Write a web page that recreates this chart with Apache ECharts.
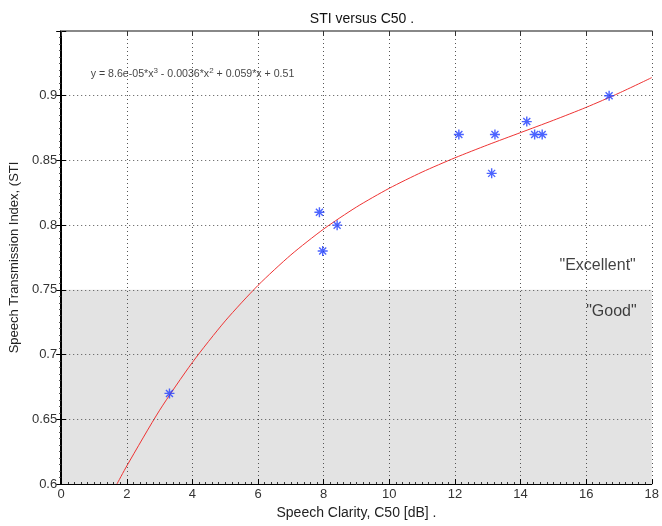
<!DOCTYPE html>
<html>
<head>
<meta charset="utf-8">
<script src="https://cdn.jsdelivr.net/npm/echarts@6/dist/echarts.min.js"></script>
<style>
html, body { margin: 0; padding: 0; background: #fff; }
#chart { width: 662px; height: 526px; }
</style>
</head>
<body>
<div id="chart"></div>
<script>
// measured points: C50 [dB] vs STI
let c50 = [3.3, 7.87, 7.97, 8.41, 12.12, 13.12, 13.22, 14.19, 14.43, 14.66, 16.7];
let sti = [0.67, 0.81, 0.78, 0.80, 0.87, 0.84, 0.87, 0.88, 0.87, 0.87, 0.90];

// fitted curve
let fitX = [1.7, 2, 3, 4, 5, 6, 7, 8, 9, 10, 11, 12, 13, 14, 15, 16, 17, 18];
let fitY = [0.600, 0.614, 0.657, 0.694, 0.726, 0.7535, 0.777, 0.797, 0.814, 0.8285,
	0.841, 0.852, 0.862, 0.8715, 0.881, 0.891, 0.902, 0.914];

let xTicks = [0, 2, 4, 6, 8, 10, 12, 14, 16, 18];
let yTicks = [0.6, 0.65, 0.7, 0.75, 0.8, 0.85, 0.9];

let fontFam = '"Liberation Sans", Arial, Helvetica, sans-serif';
let myChart = echarts.init(document.getElementById('chart'), null, { renderer: 'canvas' });

let asterisk = 'path://M5,0 L5,10 M0,5 L10,5 M1.5,1.5 L8.5,8.5 M8.5,1.5 L1.5,8.5';

let gridStyle = { color: '#555', type: [1, 3], width: 1 };

let option = {
	animation: false,
	backgroundColor: '#fff',
	title: {
		text: 'STI versus C50 .',
		left: 357,
		textAlign: 'center',
		top: 7,
		textStyle: { fontFamily: fontFam, fontSize: 14, fontWeight: 'normal', color: '#111' }
	},
	grid: { left: 61, right: 10, top: 31, bottom: 42 },
	xAxis: [{
		type: 'value',
		min: xTicks[0],
		max: xTicks[xTicks.length - 1],
		interval: 2,
		z: 3,
		name: 'Speech Clarity, C50 [dB] .',
		nameLocation: 'middle',
		nameGap: 19,
		nameTextStyle: { fontFamily: fontFam, fontSize: 14, color: '#222' },
		axisLine: { lineStyle: { color: '#000', width: 1 } },
		axisTick: { inside: true, length: 5, lineStyle: { color: '#000' } },
		minorTick: { show: true, splitNumber: 10, length: 2, lineStyle: { color: '#333' } },
		axisLabel: { fontFamily: fontFam, fontSize: 13, color: '#333', margin: 4 },
		splitLine: { show: true, lineStyle: gridStyle }
	}, {
		type: 'value',
		position: 'top',
		min: xTicks[0],
		max: xTicks[xTicks.length - 1],
		interval: 2,
		z: 3,
		axisLine: { lineStyle: { color: '#888', width: 2 } },
		axisTick: { inside: true, length: 5, lineStyle: { color: '#333' } },
		axisLabel: { show: false },
		splitLine: { show: false }
	}],
	yAxis: [{
		type: 'value',
		min: yTicks[0],
		max: 0.95,
		interval: 0.05,
		z: 3,
		name: 'Speech Transmission Index, (STI',
		nameLocation: 'middle',
		nameGap: 36,
		nameTextStyle: { fontFamily: fontFam, fontSize: 13, color: '#222' },
		axisLine: { lineStyle: { color: '#000', width: 1 } },
		axisTick: { inside: true, length: 5, lineStyle: { color: '#000' } },
		axisLabel: {
			fontFamily: fontFam, fontSize: 13, color: '#333', margin: 4,
			formatter: function (v) {
				let hit = yTicks.find(t => Math.abs(t - v) < 1e-6);
				return hit === undefined ? '' : String(hit);
			}
		},
		splitLine: { show: true, lineStyle: gridStyle }
	}, {
		type: 'value',
		position: 'right',
		min: yTicks[0],
		max: 0.95,
		interval: 0.05,
		z: 3,
		axisLine: { show: true, lineStyle: { color: '#000', width: 2 } },
		axisTick: { inside: true, length: 5, lineStyle: { color: '#000' } },
		minorTick: { show: true, splitNumber: 10, length: 2, lineStyle: { color: '#333' } },
		axisLabel: { show: false },
		splitLine: { show: false }
	}],
	series: [{
		name: 'fit',
		type: 'line',
		data: fitX.map((x, i) => [x, fitY[i]]),
		smooth: 0.25,
		showSymbol: false,
		lineStyle: { color: '#ee3333', width: 1 },
		markArea: {
			silent: true,
			itemStyle: { color: '#e3e3e3' },
			data: [[{ yAxis: 0.6 }, { yAxis: 0.75 }]]
		},
		z: 2
	}, {
		name: 'STI',
		type: 'scatter',
		data: c50.map((x, i) => [x, sti[i]]),
		symbol: asterisk,
		symbolSize: 10,
		itemStyle: { color: 'transparent', borderColor: '#1f3dff', borderWidth: 1.4 },
		z: 4
	}, {
		name: 'notes',
		type: 'scatter',
		symbolSize: 0,
		silent: true,
		z: 5,
		data: [
			{ value: [16.35, 0.769], label: { formatter: '"Excellent"' } },
			{ value: [16.77, 0.7334], label: { formatter: '"Good"' } },
			{
				value: [0.9, 0.917],
				label: {
					position: 'right',
					distance: 0,
					formatter: '{t|y = 8.6e-05*x}{s|3}{t| - 0.0036*x}{s|2}{t| + 0.059*x + 0.51}',
					rich: {
						t: { fontFamily: fontFam, fontSize: 10.6, color: '#111' },
						s: { fontFamily: fontFam, fontSize: 8, color: '#111', verticalAlign: 'top', padding: [0, 0, 6, 0] }
					}
				}
			}
		],
		label: {
			show: true,
			position: 'inside',
			fontFamily: fontFam,
			fontSize: 16,
			color: '#111'
		}
	}]
};

myChart.setOption(option);
</script>
</body>
</html>
